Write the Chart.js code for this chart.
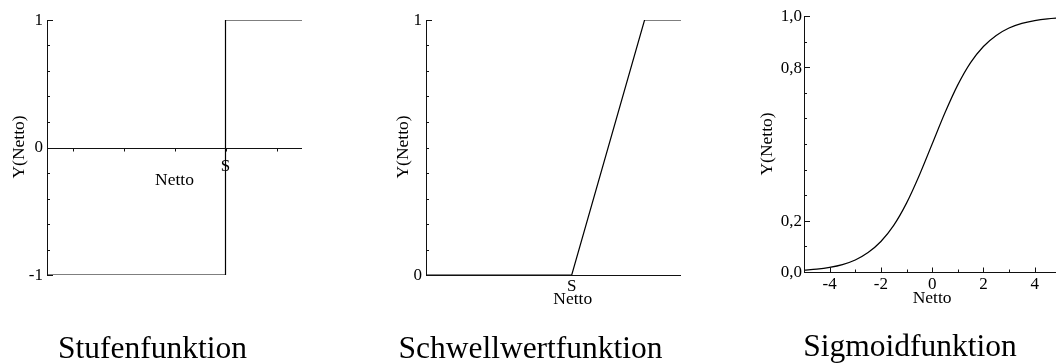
<!DOCTYPE html>
<html>
<head>
<meta charset="utf-8">
<script src="https://cdn.jsdelivr.net/npm/chart.js@4.4.0/dist/chart.umd.min.js"></script>
<style>
  html, body { margin: 0; padding: 0; background: #fff; overflow: hidden; width: 1056px; height: 363px; }
  canvas { position: absolute; top: 0; }
</style>
</head>
<body>
<canvas id="stufe" width="340" height="363" style="left:0px"></canvas>
<canvas id="schwelle" width="340" height="363" style="left:360px"></canvas>
<canvas id="sigmoid" width="350" height="363" style="left:720px"></canvas>
<script>
// Stufenfunktion: output jumps from -1 to 1 at the threshold S (Netto = 0)
const stepNetto = [-3.5, 0, 0, 1.5];
const stepOut = [-1, -1, 1, 1];
const stepYTicks = [-1, 0, 1];
const stepYLabels = ['-1', '0', '1'];
const stepXTicks = [-3, -2, -1, 0, 1];

// Schwellwertfunktion: 0 up to S, linear rise, then saturates at 1
const rampNetto = [-2, 0, 1, 1.5];
const rampOut = [0, 0, 1, 1];
const rampYTicks = [0, 1];
const rampYLabels = ['0', '1'];

// Sigmoidfunktion: sampled logistic curve
const sigNetto = [-5, -4.5, -4, -3.5, -3, -2.5, -2, -1.5, -1, -0.5, 0,
                  0.5, 1, 1.5, 2, 2.5, 3, 3.5, 4, 4.5, 5];
const sigOut = [0.007, 0.011, 0.018, 0.029, 0.047, 0.076, 0.119, 0.182, 0.269, 0.378, 0.5,
                0.622, 0.731, 0.818, 0.881, 0.924, 0.953, 0.971, 0.982, 0.989, 0.993];
const sigYTicks = [0, 0.2, 0.8, 1.0];
const sigYLabels = ['0,0', '0,2', '0,8', '1,0'];
const sigXTicks = [-4, -2, 0, 2, 4];
const sigXLabels = ['-4', '-2', '0', '2', '4'];

const FONT = "'Liberation Serif', 'Times New Roman', serif";

function points(xs, ys) {
  return xs.map((x, i) => ({ x: x, y: ys[i] }));
}

// Axes, ticks and labels drawn from the chart's own scales
function axesDeco(cfg) {
  return {
    id: 'axesDeco',
    afterDatasetsDraw(chart) {
      const { ctx, chartArea: a } = chart;
      const xs = chart.scales.x, ys = chart.scales.y;
      const crisp = v => Math.round(v) + 0.5;
      const seg = (x1, y1, x2, y2) => { ctx.beginPath(); ctx.moveTo(x1, y1); ctx.lineTo(x2, y2); ctx.stroke(); };
      ctx.save();
      ctx.strokeStyle = '#111';
      ctx.fillStyle = '#000';
      ctx.lineWidth = 1;

      // vertical axis
      const ax = crisp(a.left);
      seg(ax, ys.getPixelForValue(cfg.yMax), ax, ys.getPixelForValue(cfg.yMin));
      // horizontal axis
      const ay = crisp(ys.getPixelForValue(cfg.xAxisAt));
      seg(a.left, ay, a.right, ay);

      // y ticks (inward)
      const nY = Math.round((cfg.yMax - cfg.yMin) / cfg.yMinor);
      for (let i = 0; i <= nY; i++) {
        const v = cfg.yMin + i * cfg.yMinor;
        const major = cfg.yTicks.some(t => Math.abs(t - v) < 1e-9);
        const py = crisp(ys.getPixelForValue(v));
        seg(a.left, py, a.left + (major ? 6 : 3), py);
      }
      // y tick labels
      ctx.font = '17px ' + FONT;
      ctx.textAlign = 'right';
      ctx.textBaseline = 'middle';
      cfg.yTicks.forEach((v, i) => {
        ctx.fillText(cfg.yLabels[i], a.left - cfg.yLabelGap, ys.getPixelForValue(v) + cfg.yLabelShift);
      });

      // x ticks
      if (cfg.xTicks) {
        cfg.xTicks.forEach(v => {
          const px = crisp(xs.getPixelForValue(v));
          seg(px, ay, px, ay + cfg.xTickLen);
        });
      }
      if (cfg.xMinor) {
        for (let v = Math.ceil(cfg.xMin); v <= cfg.xMax; v += cfg.xMinor) {
          const major = cfg.xLabelTicks.includes(v);
          const px = crisp(xs.getPixelForValue(v));
          seg(px, ay, px, ay - (major ? 5 : 3));
        }
      }
      ctx.textAlign = 'center';
      ctx.textBaseline = 'alphabetic';
      if (cfg.xLabelTicks) {
        cfg.xLabelTicks.forEach((v, i) => {
          ctx.fillText(cfg.xLabels[i], xs.getPixelForValue(v), ay + 16.5);
        });
      }

      // threshold marker S
      if (cfg.sAt !== undefined) {
        ctx.fillText('S', xs.getPixelForValue(cfg.sAt), ay + cfg.sDrop);
      }

      // axis titles
      ctx.font = '17.5px ' + FONT;
      ctx.fillText('Netto', cfg.nettoX(a, xs), cfg.nettoY);
      ctx.save();
      ctx.translate(cfg.yTitleX, cfg.yTitleY);
      ctx.rotate(-Math.PI / 2);
      ctx.textBaseline = 'middle';
      ctx.fillText('Y(Netto)', 0, 0);
      ctx.restore();

      // panel caption
      ctx.font = '31.5px ' + FONT;
      ctx.textBaseline = 'alphabetic';
      ctx.fillText(cfg.caption, cfg.captionX, cfg.captionY);
      ctx.restore();
    }
  };
}

function makeChart(id, data, xr, yr, padding, smooth, deco) {
  return new Chart(document.getElementById(id), {
    type: 'scatter',
    data: {
      datasets: [{
        data: data,
        showLine: true,
        borderColor: '#000',
        borderWidth: 1.2,
        pointRadius: 0,
        pointHoverRadius: 0,
        fill: false,
        tension: smooth ? 0.4 : 0,
        cubicInterpolationMode: smooth ? 'monotone' : 'default'
      }]
    },
    options: {
      responsive: false,
      animation: false,
      devicePixelRatio: 1,
      layout: { padding: padding },
      events: [],
      plugins: { legend: { display: false }, tooltip: { enabled: false }, title: { display: false } },
      scales: {
        x: { type: 'linear', min: xr[0], max: xr[1], display: false },
        y: { type: 'linear', min: yr[0], max: yr[1], display: false }
      }
    },
    plugins: [axesDeco(deco)]
  });
}

makeChart('stufe', points(stepNetto, stepOut), [-3.5, 1.5], [-1, 1],
  { left: 47, top: 20, right: 38, bottom: 88 }, false, {
    yMin: -1, yMax: 1, yMinor: 0.2, yTicks: stepYTicks, yLabels: stepYLabels,
    yLabelGap: 4, yLabelShift: 0.5,
    xAxisAt: 0, xTicks: stepXTicks, xTickLen: 3,
    sAt: 0, sDrop: 22,
    nettoX: a => (a.left + a.right) / 2, nettoY: 185,
    yTitleX: 19, yTitleY: 147,
    caption: 'Stufenfunktion', captionX: 152.5, captionY: 358
  });

makeChart('schwelle', points(rampNetto, rampOut), [-2, 1.5], [0, 1],
  { left: 66, top: 20, right: 19, bottom: 88 }, false, {
    yMin: 0, yMax: 1, yMinor: 0.1, yTicks: rampYTicks, yLabels: rampYLabels,
    yLabelGap: 4, yLabelShift: 0.5,
    xAxisAt: 0,
    sAt: 0, sDrop: 15,
    nettoX: (a, xs) => xs.getPixelForValue(0) + 1, nettoY: 304,
    yTitleX: 43, yTitleY: 147,
    caption: 'Schwellwertfunktion', captionX: 170.5, captionY: 358
  });

makeChart('sigmoid', points(sigNetto, sigOut), [-5, 5], [0, 1],
  { left: 84, top: 16, right: 9.7, bottom: 91 }, true, {
    yMin: 0, yMax: 1, yMinor: 0.1, yTicks: sigYTicks, yLabels: sigYLabels,
    yLabelGap: 2, yLabelShift: 1,
    xAxisAt: 0, xMin: -5, xMax: 5, xMinor: 1,
    xLabelTicks: sigXTicks, xLabels: sigXLabels,
    nettoX: (a, xs) => xs.getPixelForValue(0), nettoY: 303,
    yTitleX: 47.5, yTitleY: 144,
    caption: 'Sigmoidfunktion', captionX: 190, captionY: 356
  });
</script>
</body>
</html>
